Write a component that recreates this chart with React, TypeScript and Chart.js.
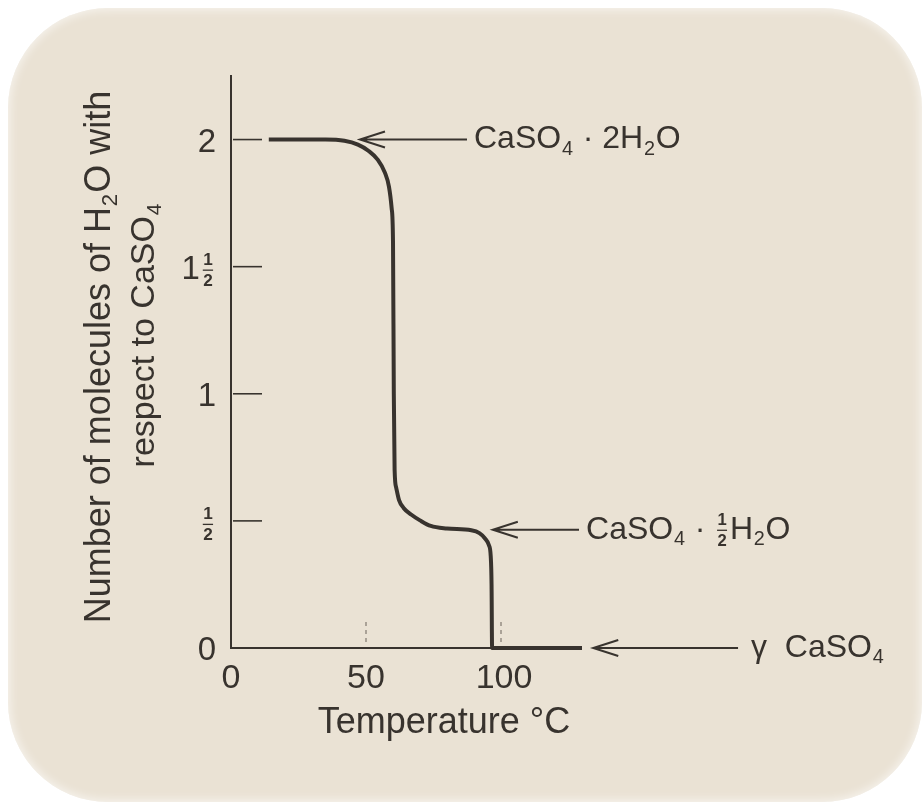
import React, { useEffect, useRef } from "react";
import { Chart, registerables } from "chart.js";

Chart.register(...registerables);

// ---- data ----
const temperatureC = [14, 35, 42, 47, 51, 54.4, 57, 58.5, 59.5, 60, 60.3, 60.6, 61.2, 62.2, 64, 66.7, 70, 74, 80, 89, 92, 94, 95.5, 96.2, 96.5, 96.7, 110, 130];
const waterMolecules = [2, 2, 1.995, 1.98, 1.955, 1.92, 1.87, 1.815, 1.73, 1.6, 1.0, 0.7, 0.63, 0.583, 0.55, 0.525, 0.502, 0.48, 0.47, 0.463, 0.452, 0.432, 0.405, 0.36, 0.25, 0, 0, 0];

const xTickValues = [0, 50, 100];
const xTickLabels = ["0", "50", "100"];
const yTickValues = [0, 0.5, 1, 1.5, 2];
const yTickLabels = ["0", "{1/2}", "1", "1{1/2}", "2"];

// arrows: tip (x,y) in data units, tail x in data units, label markup
const arrowTipX = [47.4, 96.6, 133.8];
const arrowTipY = [2, 0.465, 0];
const arrowTailX = [87.4, 128.9, 187.8];
const arrowLabels = ["CaSO_4 · 2H_2O", "CaSO_4 · {1/2}H_2O", "γ  CaSO_4"];

const xTitle = "Temperature °C";
const yTitleLines = ["Number of molecules of H_2O with", "respect to CaSO_4"];

const INK = "#38332e";
const FONT = "'Liberation Sans', Arial, sans-serif";

type Seg = { kind: "t" | "sub" | "frac"; text: string; num?: string; den?: string };

function parseRich(s: string): Seg[] {
  const out: Seg[] = [];
  let buf = "";
  for (let i = 0; i < s.length; i++) {
    const c = s[i];
    if (c === "_") {
      if (buf) { out.push({ kind: "t", text: buf }); buf = ""; }
      out.push({ kind: "sub", text: s[i + 1] });
      i++;
    } else if (c === "{") {
      if (buf) { out.push({ kind: "t", text: buf }); buf = ""; }
      const end = s.indexOf("}", i);
      const [n, d] = s.slice(i + 1, end).split("/");
      out.push({ kind: "frac", text: "", num: n, den: d });
      i = end;
    } else buf += c;
  }
  if (buf) out.push({ kind: "t", text: buf });
  return out;
}

function segWidth(ctx: CanvasRenderingContext2D, seg: Seg, size: number) {
  if (seg.kind === "t") { ctx.font = `${size}px ${FONT}`; return ctx.measureText(seg.text).width; }
  if (seg.kind === "sub") { ctx.font = `${size * 0.62}px ${FONT}`; return ctx.measureText(seg.text).width + size * 0.05; }
  ctx.font = `bold ${size * 0.52}px ${FONT}`;
  return Math.max(ctx.measureText(seg.num || "").width, ctx.measureText(seg.den || "").width) + size * 0.2;
}

function drawRich(ctx: CanvasRenderingContext2D, s: string, x: number, y: number, size: number, align: "left" | "center" | "right") {
  const segs = parseRich(s);
  const widths = segs.map((g) => segWidth(ctx, g, size));
  const total = widths.reduce((a, b) => a + b, 0);
  let cx = align === "left" ? x : align === "center" ? x - total / 2 : x - total;
  ctx.fillStyle = INK;
  ctx.strokeStyle = INK;
  ctx.textAlign = "left";
  ctx.textBaseline = "middle";
  segs.forEach((g, i) => {
    if (g.kind === "t") {
      ctx.font = `${size}px ${FONT}`;
      ctx.fillText(g.text, cx, y);
    } else if (g.kind === "sub") {
      ctx.font = `${size * 0.62}px ${FONT}`;
      ctx.fillText(g.text, cx + size * 0.025, y + size * 0.3);
    } else {
      const fs = size * 0.52;
      ctx.font = `bold ${fs}px ${FONT}`;
      const mid = cx + widths[i] / 2;
      ctx.textAlign = "center";
      ctx.fillText(g.num || "", mid, y - fs * 0.55);
      ctx.fillText(g.den || "", mid, y + fs * 0.68);
      ctx.textAlign = "left";
      ctx.lineWidth = 1.3;
      ctx.beginPath();
      ctx.moveTo(mid - fs * 0.3, y + 0.5);
      ctx.lineTo(mid + fs * 0.3, y + 0.5);
      ctx.stroke();
    }
    cx += widths[i];
  });
}

const figurePlugin = {
  id: "figurePlugin",
  beforeDatasetsDraw(chart: any) {
    const ctx: CanvasRenderingContext2D = chart.ctx;
    const xs = chart.scales.x;
    const ys = chart.scales.y;
    const { left, top, bottom, right } = chart.chartArea;
    ctx.save();
    ctx.strokeStyle = INK;
    ctx.lineCap = "butt";
    // axes
    ctx.lineWidth = 2;
    ctx.beginPath();
    ctx.moveTo(left, top - 1);
    ctx.lineTo(left, bottom + 1);
    ctx.moveTo(left - 1, bottom);
    ctx.lineTo(right, bottom);
    ctx.stroke();
    // y ticks (inside)
    ctx.lineWidth = 1.6;
    yTickValues.forEach((v) => {
      if (v === 0) return;
      const py = ys.getPixelForValue(v);
      ctx.beginPath();
      ctx.moveTo(left + 2, py);
      ctx.lineTo(left + 31, py);
      ctx.stroke();
    });
    // x ticks (faint dotted, inside)
    ctx.lineWidth = 1.4;
    ctx.strokeStyle = "rgba(70,62,55,0.55)";
    ctx.setLineDash([4, 4]);
    xTickValues.forEach((v) => {
      if (v === 0) return;
      const px = xs.getPixelForValue(v);
      ctx.beginPath();
      ctx.moveTo(px, bottom - 26);
      ctx.lineTo(px, bottom - 3);
      ctx.stroke();
    });
    ctx.setLineDash([]);
    ctx.restore();
  },
  afterDatasetsDraw(chart: any) {
    const ctx: CanvasRenderingContext2D = chart.ctx;
    const xs = chart.scales.x;
    const ys = chart.scales.y;
    const { left, bottom } = chart.chartArea;
    ctx.save();
    // tick labels
    xTickValues.forEach((v, i) => {
      drawRich(ctx, xTickLabels[i], xs.getPixelForValue(v) + (i === 2 ? 3 : 0), bottom + 31, 34, "center");
    });
    yTickValues.forEach((v, i) => {
      drawRich(ctx, yTickLabels[i], left - 15, ys.getPixelForValue(v) + 3, 33, "right");
    });
    // axis titles
    drawRich(ctx, xTitle, 444, bottom + 75, 36, "center");
    const yCenters = [100, 145];
    const yMids = [357, 335];
    const ySizes = [36, 34];
    yTitleLines.forEach((line, i) => {
      ctx.save();
      ctx.translate(yCenters[i], yMids[i]);
      ctx.rotate(-Math.PI / 2);
      drawRich(ctx, line, 0, 0, ySizes[i], "center");
      ctx.restore();
    });
    // arrows + labels
    ctx.strokeStyle = INK;
    arrowTipX.forEach((tx, i) => {
      const px = xs.getPixelForValue(tx);
      const py = ys.getPixelForValue(arrowTipY[i]);
      const tail = xs.getPixelForValue(arrowTailX[i]);
      ctx.lineWidth = 2;
      ctx.beginPath();
      ctx.moveTo(px + 1, py);
      ctx.lineTo(tail, py);
      ctx.moveTo(px + 26, py - 8);
      ctx.lineTo(px + 1, py);
      ctx.lineTo(px + 26, py + 8);
      ctx.stroke();
      drawRich(ctx, arrowLabels[i], tail + (i === 2 ? 13 : 7), py, 32, "left");
    });
    ctx.restore();
  },
};

export default function App() {
  const ref = useRef<HTMLCanvasElement | null>(null);
  useEffect(() => {
    if (!ref.current) return;
    const points = temperatureC.map((t, i) => ({ x: t, y: waterMolecules[i] }));
    const chart = new Chart(ref.current, {
      type: "line",
      data: {
        datasets: [
          {
            label: "H2O per CaSO4",
            data: points,
            borderColor: INK,
            borderWidth: 4,
            pointRadius: 0,
            fill: false,
            cubicInterpolationMode: "monotone",
            clip: false as any,
          },
        ],
      },
      options: {
        responsive: false,
        animation: false,
        devicePixelRatio: 1,
        layout: { padding: { left: 231, right: 342, top: 76, bottom: 162 } },
        plugins: { legend: { display: false }, tooltip: { enabled: false }, title: { display: false } },
        events: [],
        scales: {
          x: { type: "linear", min: 0, max: 130, display: false },
          y: { type: "linear", min: 0, max: 2.25, display: false },
        },
      },
      plugins: [figurePlugin],
    });
    return () => chart.destroy();
  }, []);

  return (
    <div style={{ position: "fixed", left: 0, top: 0, width: 924, height: 810, background: "#ffffff", overflow: "hidden" }}>
      <div
        style={{
          position: "absolute",
          left: 8,
          top: 8,
          width: 914,
          height: 794,
          borderRadius: 100,
          background: "#eae2d4",
          boxShadow: "inset 0 0 10px 2px rgba(255,255,255,0.6)",
        }}
      />
      <canvas ref={ref} width={924} height={810} style={{ position: "absolute", left: 0, top: 0, width: 924, height: 810 }} />
    </div>
  );
}
